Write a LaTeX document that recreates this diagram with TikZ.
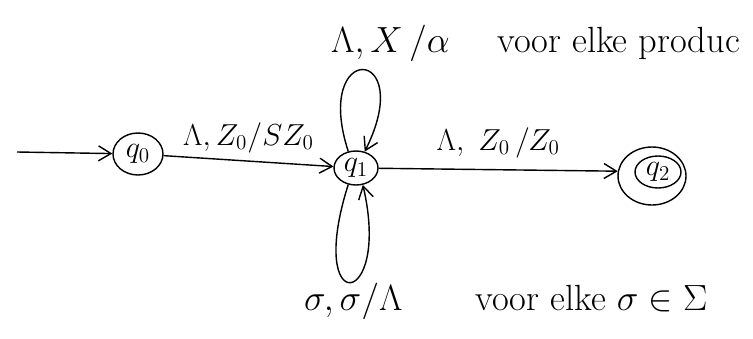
\documentclass[tikz,border=0pt]{standalone}
\usepackage{amssymb}
\usetikzlibrary{shapes.geometric, arrows.meta, positioning}

\begin{document}
\begin{tikzpicture}[
  x=0.02cm, y=-0.02cm,
  state/.style={ellipse, draw=black, thick, inner sep=0pt, font=\LARGE},
  arrow/.style={thick, -{Straight Barb[length=2.5mm, width=3mm]}},
  lbl/.style={font=\huge},
  edgelbl/.style={font=\LARGE, above}
]
\useasboundingbox (0,0) rectangle (753,338);

\node[state, minimum width=1.0cm, minimum height=0.84cm] (q0) at (138,154) {$q_0$};
\node[state, minimum width=0.88cm, minimum height=0.68cm] (q1) at (356,168) {$q_1$};
\node[state, minimum width=1.36cm, minimum height=1.16cm] (q2) at (652,176) {};
\node[state, minimum width=0.92cm, minimum height=0.64cm] (q2in) at (658,172) {$q_2$};
\coordinate (start) at (17,152);

\draw[arrow] (start) -- (q0);
\draw[arrow] (q0) -- node[edgelbl, yshift=1pt] {$\Lambda, Z_0/SZ_0$} (q1);
\draw[arrow] (q1) -- node[edgelbl, yshift=3pt] {$\Lambda,\ Z_0\,/Z_0$} (q2.172);
\draw[arrow] (q1.115) .. controls (312,40) and (418,45) .. (q1.62);
\draw[arrow] (q1.245) .. controls (305,320) and (392,310) .. (q1.292);

\node[lbl, anchor=west] (loopup) at (325,43) {$\Lambda, X\,/\alpha$\quad\ voor elke produc};
\node[lbl, anchor=west] (loopdown) at (298,301) {$\sigma, \sigma/\Lambda$\qquad voor elke $\sigma \in \Sigma$};

\end{tikzpicture}
\end{document}
